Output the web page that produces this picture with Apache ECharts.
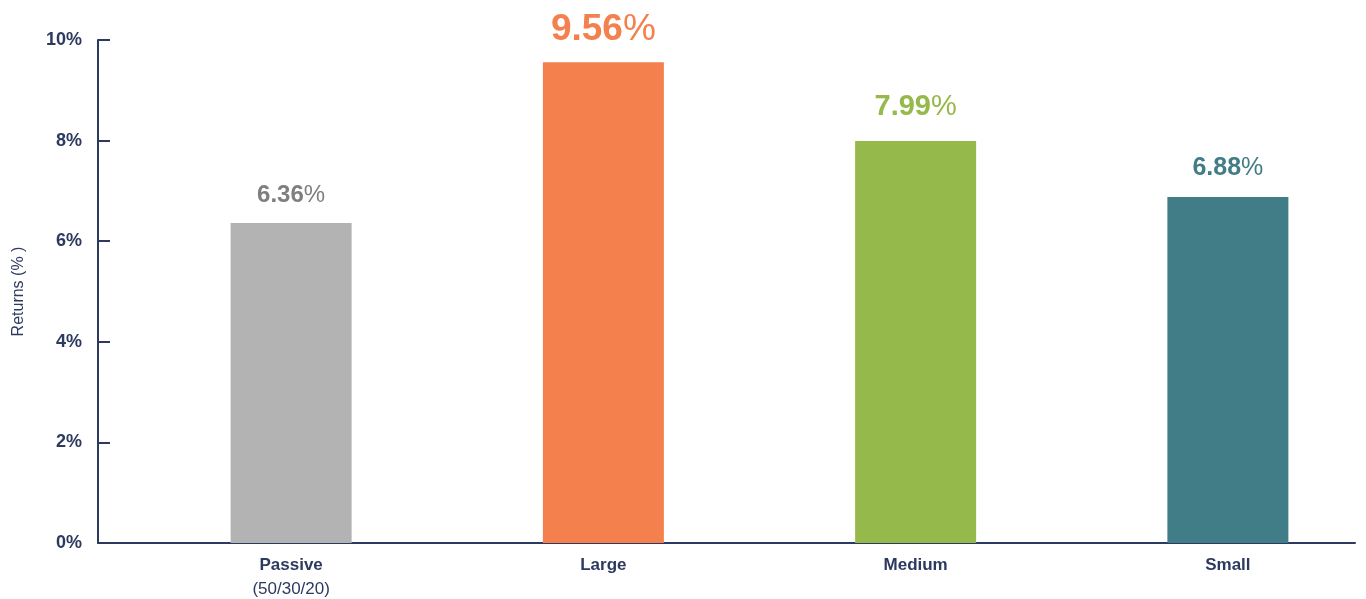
<!DOCTYPE html>
<html>
<head>
<meta charset="utf-8">
<script src="https://cdn.jsdelivr.net/npm/echarts@6/dist/echarts.min.js"></script>
<style>html,body{margin:0;padding:0;background:#fff;overflow:hidden;}#chart{width:1400px;height:599px;}</style>
</head>
<body>
<div id="chart"></div>
<script>
// ---- data ----
var categories = ['Passive', 'Large', 'Medium', 'Small'];
var subLabels = ['(50/30/20)', '', '', ''];
var returnsPct = [6.36, 9.56, 7.99, 6.88];
var yTicks = [0, 2, 4, 6, 8, 10];

// ---- style ----
var barColors = ['#b3b3b3', '#f3804d', '#96b94b', '#417d86'];
var labelColors = ['#7f7f7f', '#f3804d', '#96b94b', '#417d86'];
var labelSizes = [24, 37, 29, 25];
var labelDist = [16, 14, 20, 16];
var navy = '#2d3a60';
var font = '"Liberation Sans", Arial, sans-serif';

var chart = echarts.init(document.getElementById('chart'));

var data = returnsPct.map(function (v, i) {
  return {
    value: v,
    itemStyle: { color: barColors[i] },
    label: {
      show: true,
      position: 'top',
      distance: labelDist[i],
      formatter: '{n|' + v.toFixed(2) + '}{p|%}',
      rich: {
        n: { fontSize: labelSizes[i], fontWeight: 'bold', color: labelColors[i], fontFamily: font },
        p: { fontSize: labelSizes[i], fontWeight: 'normal', color: labelColors[i], fontFamily: font }
      }
    }
  };
});

chart.setOption({
  animation: false,
  backgroundColor: '#ffffff',
  grid: [
    { left: 135, right: 16, top: 40, bottom: 56 },
    { left: 98, right: 45, top: 40, bottom: 56 }
  ],
  xAxis: [
    {
      type: 'category',
      gridIndex: 0,
      data: categories,
      axisLine: { show: false },
      axisTick: { show: false },
      axisLabel: {
        margin: 10,
        interval: 0,
        formatter: function (val, idx) {
          return subLabels[idx] ? '{b|' + val + '}\n{s|' + subLabels[idx] + '}' : '{b|' + val + '}';
        },
        rich: {
          b: { fontSize: 17, fontWeight: 'bold', color: navy, fontFamily: font, lineHeight: 24 },
          s: { fontSize: 17, fontWeight: 'normal', color: navy, fontFamily: font, lineHeight: 24 }
        }
      }
    },
    {
      type: 'value',
      gridIndex: 1,
      min: 0, max: 1,
      axisLine: { show: true, onZero: false, lineStyle: { color: navy, width: 2 } },
      axisTick: { show: false },
      axisLabel: { show: false },
      splitLine: { show: false }
    }
  ],
  yAxis: [
    {
      type: 'value',
      gridIndex: 0,
      min: yTicks[0],
      max: yTicks[yTicks.length - 1],
      interval: yTicks[1] - yTicks[0],
      offset: 37,
      name: 'Returns (% )',
      nameLocation: 'middle',
      nameGap: 71,
      nameTextStyle: { color: navy, fontSize: 16, fontFamily: font },
      axisLine: { show: true, lineStyle: { color: navy, width: 2 } },
      axisTick: { show: true, inside: true, length: 12, lineStyle: { color: navy, width: 2 } },
      axisLabel: {
        formatter: '{value}%',
        margin: 16,
        color: navy,
        fontSize: 18,
        fontWeight: 'bold',
        fontFamily: font
      },
      splitLine: { show: false }
    },
    {
      type: 'value',
      gridIndex: 1,
      show: false
    }
  ],
  series: [
    {
      type: 'bar',
      xAxisIndex: 0,
      yAxisIndex: 0,
      barWidth: 121,
      data: data
    }
  ]
});
</script>
</body>
</html>
